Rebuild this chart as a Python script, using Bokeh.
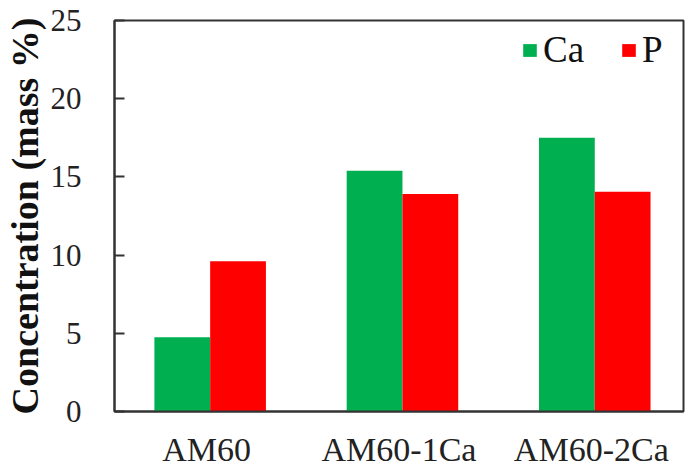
from bokeh.plotting import figure
from bokeh.models import ColumnDataSource, FactorRange, Legend, LegendItem
from bokeh.transform import dodge
from bokeh.embed import file_html
from bokeh.resources import INLINE

categories = ["AM60", "AM60-1Ca", "AM60-2Ca"]
ca_values = [4.75, 15.4, 17.5]
p_values = [9.6, 13.9, 14.05]
y_ticks = [0, 5, 10, 15, 20, 25]

src = ColumnDataSource(dict(cat=categories, ca=ca_values, p=p_values))

FONT = "Times New Roman"

xr = FactorRange(*categories, range_padding=-0.0137)
p = figure(x_range=xr, y_range=(0, 25), width=700, height=470,
           output_backend="svg", toolbar_location=None)
p.min_border_left = 112
p.min_border_right = 17
p.min_border_top = 20
p.min_border_bottom = 58

w = 0.29
shift = 0.018
r1 = p.vbar(x=dodge("cat", -w / 2 + shift, range=p.x_range), top="ca", width=w, source=src,
            fill_color="#00B050", line_color=None)
r2 = p.vbar(x=dodge("cat", w / 2 + shift, range=p.x_range), top="p", width=w, source=src,
            fill_color="#FF0000", line_color=None)

p.xgrid.visible = False
p.ygrid.visible = False
p.outline_line_color = "#333333"
p.outline_line_width = 2
p.background_fill_color = "white"
p.border_fill_color = "white"

p.yaxis.ticker = y_ticks
p.yaxis.major_tick_in = 10
p.yaxis.major_tick_out = 0
p.yaxis.minor_tick_line_color = None
p.yaxis.axis_line_color = "#333333"
p.yaxis.axis_line_width = 2
p.yaxis.major_tick_line_color = "#333333"
p.yaxis.major_tick_line_width = 2
p.yaxis.major_label_text_font = FONT
p.yaxis.major_label_text_font_size = "31px"
p.yaxis.major_label_text_color = "#222222"
p.yaxis.major_label_standoff = 33
p.yaxis.axis_label = "Concentration (mass %)"
p.yaxis.axis_label_text_font = FONT
p.yaxis.axis_label_text_font_style = "bold"
p.yaxis.axis_label_text_font_size = "38px"
p.yaxis.axis_label_text_color = "#111111"
p.yaxis.axis_label_standoff = 2

p.xaxis.major_tick_line_color = None
p.xaxis.minor_tick_line_color = None
p.xaxis.axis_line_color = "#333333"
p.xaxis.axis_line_width = 2
p.xaxis.major_label_text_font = FONT
p.xaxis.major_label_text_font_size = "34px"
p.xaxis.major_label_text_color = "#222222"
p.xaxis.major_label_standoff = 13

legend = Legend(items=[LegendItem(label="Ca", renderers=[r1]),
                       LegendItem(label="P", renderers=[r2])],
                orientation="horizontal", location=(407, 340))
legend.border_line_color = None
legend.background_fill_alpha = 0
legend.label_text_font = FONT
legend.label_text_font_size = "37px"
legend.label_text_color = "#111111"
legend.glyph_width = 17
legend.glyph_height = 16
legend.label_standoff = 5
legend.spacing = 36
legend.margin = 0
legend.padding = 10
p.add_layout(legend)

open("out.html", "w").write(file_html(p, INLINE))
